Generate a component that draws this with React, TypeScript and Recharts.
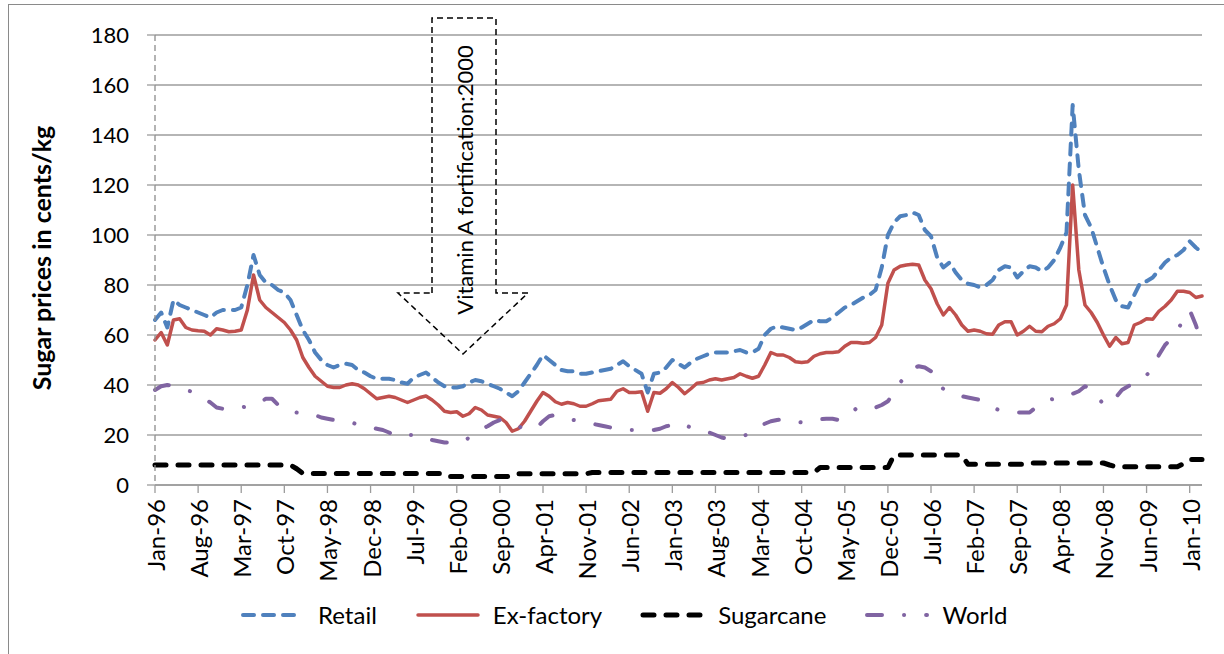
import { LineChart, Line, XAxis, YAxis, CartesianGrid } from 'recharts';

// monthly series, Jan-96 .. Mar-10 (171 months)
const monthNames = ['Jan', 'Feb', 'Mar', 'Apr', 'May', 'Jun', 'Jul', 'Aug', 'Sep', 'Oct', 'Nov', 'Dec'];
const firstYear = 96;
const monthCount = 171;

const retail = [
  66, 69, 63, 74, 72, 71, 70, 69, 68, 67,
  69, 70, 70, 70, 71, 80, 92, 84, 81, 80,
  78, 77, 74, 68, 62, 58, 53, 50, 48, 47,
  48, 48.5, 48, 46, 45, 43.5, 42.5, 42.5, 42.5, 42,
  41, 40.5, 43, 44, 45, 43, 41, 39.5, 39, 39,
  39.5, 41, 42, 41.5, 40.5, 39.5, 38.5, 37, 35.5, 37.5,
  41, 44.5, 48, 52, 50, 48, 46, 45.5, 45.5, 44.5,
  44.5, 45, 45.5, 46, 46.5, 48, 49.5, 47.5, 46, 44.5,
  37, 44.5, 45, 47, 50, 48.5, 47, 49, 50.5, 51.5,
  52.5, 53, 53, 53, 53.5, 54, 53, 53, 54.5, 60,
  62.5, 63.5, 63, 62.5, 62, 63, 64.5, 66, 65.5, 65.5,
  67, 69, 71, 72, 73.5, 75, 76, 78, 87, 100,
  105, 107.5, 108, 109, 108, 102, 99.5, 91, 87, 89,
  85, 82, 80.5, 80, 79, 80, 82, 86, 87.5, 87,
  83, 85.5, 87.5, 87, 85.5, 87, 90, 95, 101, 152,
  126, 108, 103, 95, 87, 80, 74, 71.5, 71, 76,
  81, 81.5, 83, 86, 89, 91, 92, 94, 97.5, 95,
  93,
];

const exFactory = [
  58, 61, 56, 66, 66.5, 63, 62, 61.7, 61.5, 60,
  62.5, 62, 61.3, 61.5, 62, 70, 84, 74, 71, 69,
  67, 65, 62, 58, 51, 47, 43.5, 41.5, 39.5, 39,
  39, 40, 40.5, 40, 38.5, 36.5, 34.5, 35, 35.5, 35,
  34, 33, 34, 35, 35.6, 34, 32, 29.5, 29, 29.3,
  27.5, 28.5, 31, 30, 28, 27.5, 27, 25, 21.5, 22.5,
  25.5, 29.5, 33.5, 37, 35.5, 33.3, 32.3, 33, 32.5, 31.5,
  31.5, 32.5, 33.7, 34, 34.3, 37.5, 38.5, 37, 37, 37.3,
  29.5, 37, 36.7, 38.5, 41, 39, 36.5, 38.5, 40.7, 41,
  42, 42.5, 42, 42.5, 43, 44.5, 43.5, 42.7, 43.5, 48,
  53, 52, 52, 51, 49.3, 49, 49.3, 51.5, 52.5, 53,
  53, 53.3, 55.5, 57, 57, 56.7, 57, 59, 64, 80.7,
  86, 87.5, 88, 88.3, 88, 82, 78.5, 72.5, 68, 71,
  68, 64, 61.5, 62, 61.5, 60.5, 60.3, 64, 65.3, 65.3,
  60, 61.5, 63.5, 61.5, 61.3, 63.5, 64.5, 66.5, 72, 120,
  86, 72, 69, 65, 60, 55.5, 59, 56.5, 57, 64,
  65, 66.5, 66.3, 69.5, 71.5, 74, 77.5, 77.5, 77, 75,
  75.6,
];

const sugarcane = [
  8, 8, 8, 8, 8, 8, 8, 8, 8, 8,
  8, 8, 8, 8, 8, 8, 8, 8, 8, 8,
  8, 8, 8, 6.5, 4.6, 4.6, 4.6, 4.6, 4.6, 4.6,
  4.6, 4.6, 4.6, 4.6, 4.6, 4.6, 4.6, 4.6, 4.6, 4.6,
  4.6, 4.6, 4.6, 4.6, 4.6, 4.6, 4.6, 4.6, 3.4, 3.4,
  3.4, 3.4, 3.4, 3.4, 3.4, 3.4, 3.4, 3.4, 3.4, 4.5,
  4.5, 4.5, 4.5, 4.5, 4.5, 4.5, 4.5, 4.5, 4.5, 4.5,
  4.5, 5, 5, 5, 5, 5, 5, 5, 5, 5,
  5, 5, 5, 5, 5, 5, 5, 5, 5, 5,
  5, 5, 5, 5, 5, 5, 5, 5, 5, 5,
  5, 5, 5, 5, 5, 5, 5, 5, 7, 7,
  7, 7, 7, 7, 7, 7, 7, 7, 7, 7,
  12, 12, 12, 12, 12, 12, 12, 12, 12, 12,
  12, 12, 8.3, 8.3, 8.3, 8.3, 8.3, 8.3, 8.3, 8.3,
  8.3, 8.3, 8.8, 8.8, 8.8, 8.8, 8.8, 8.8, 8.8, 8.8,
  8.8, 8.8, 8.8, 8.8, 8.8, 8, 7.3, 7.3, 7.3, 7.3,
  7.3, 7.3, 7.3, 7.3, 7.3, 7.3, 7.3, 8.5, 10.2, 10.2,
  10.2,
];

const world = [
  38, 39.5, 40, 39.7, 39, 38, 37.3, 36, 34.5, 33,
  31, 30.5, 30.3, 30.5, 31, 31.5, 32, 33, 34.5, 34.5,
  32, 30, 29.5, 29, 28.8, 28.7, 28, 27, 26.5, 26,
  25.7, 25.3, 25, 24, 23.3, 23, 22.5, 22, 21, 19.5,
  19.5, 20, 20, 20, 19, 18, 17.5, 17, 17, 17,
  17.2, 19, 21, 22.5, 23.5, 25, 26, 25.5, 24.5, 23.5,
  22.5, 22.5, 23, 25.5, 27.5, 28, 27.5, 26.5, 26, 25.5,
  25, 24.5, 24, 23.5, 23, 22.5, 22, 22, 22, 21.8,
  21.7, 22, 22.5, 23.5, 24, 25, 24, 23, 22, 21.5,
  21, 20, 19, 18.5, 19, 19.5, 20, 21.5, 23, 24.5,
  25.5, 26, 26.3, 26, 25.5, 25, 25.5, 26, 26.3, 26.5,
  26.5, 26, 26.5, 28.5, 31, 31.5, 31, 31, 32, 33.5,
  37, 41, 44, 46.7, 47.5, 47, 45.5, 40, 38.5, 37.5,
  36, 35.5, 35, 34.5, 34, 32, 31, 30, 29.5, 29,
  29, 29, 29, 31, 33, 34, 34.5, 34.7, 35.5, 36.5,
  37.5, 39.5, 38.5, 35, 32.5, 32, 35, 38, 39.5, 40.5,
  42, 44, 46.3, 52, 56, 58.5, 62, 66, 70, 64,
  56,
];

const yTicks = [0, 20, 40, 60, 80, 100, 120, 140, 160, 180];
const yTitle = 'Sugar prices in cents/kg';
const noteText = 'Vitamin A fortification:2000';

const months: string[] = [];
for (let i = 0; i < monthCount; i++) {
  const yy = (firstYear + Math.floor(i / 12)) % 100;
  months.push(`${monthNames[i % 12]}-${String(yy).padStart(2, '0')}`);
}

const data = months.map((month, i) => ({
  month,
  retail: retail[i],
  exFactory: exFactory[i],
  sugarcane: sugarcane[i],
  world: world[i],
}));

const series = [
  { key: 'retail', name: 'Retail', color: '#4F81BD', width: 4, dash: '11 9' },
  { key: 'exFactory', name: 'Ex-factory', color: '#C0504D', width: 3.5, dash: undefined },
  { key: 'sugarcane', name: 'Sugarcane', color: '#000000', width: 5, dash: '11 12' },
  { key: 'world', name: 'World', color: '#8064A2', width: 4, dash: '15 22 0.1 22' },
];

const FONT = 'Lato, "Open Sans", sans-serif';

const MonthTick = (props: any) => {
  const { x, y, payload } = props;
  return (
    <g transform={`translate(${x},${y}) rotate(-90)`}>
      <text x={0} y={0} dy={10} textAnchor="end" fontSize={24} fill="#000" fontFamily={FONT}>
        {payload.value}
      </text>
    </g>
  );
};

export default function App() {
  return (
    <div
      style={{
        position: 'fixed',
        left: 0,
        top: 0,
        width: 1224,
        height: 654,
        overflow: 'hidden',
        background: '#fff',
        fontFamily: FONT,
      }}
    >
      <div
        style={{
          position: 'absolute',
          left: 8,
          top: 4,
          width: 1400,
          height: 900,
          border: '1.5px solid #8a8a8a',
        }}
      />
      <div style={{ position: 'absolute', left: 0, top: 0 }}>
        <LineChart width={1224} height={654} data={data} margin={{ top: 35, right: 22, bottom: 59, left: 0 }}>
          <CartesianGrid vertical={false} stroke="#9c9c9c" strokeWidth={1.3} />
          <XAxis
            dataKey="month"
            interval={6}
            height={110}
            tickSize={8}
            tickMargin={6}
            axisLine={{ stroke: '#9c9c9c', strokeWidth: 1.3 }}
            tickLine={{ stroke: '#9c9c9c', strokeWidth: 1.3 }}
            tick={<MonthTick />}
          />
          <YAxis
            width={155}
            domain={[0, 180]}
            ticks={yTicks}
            interval={0}
            tickSize={8}
            tickMargin={18}
            axisLine={{ stroke: '#8c8c8c', strokeWidth: 1.3, strokeDasharray: '6 4' }}
            tickLine={{ stroke: '#9c9c9c', strokeWidth: 1.3 }}
            tick={{ fontSize: 22, fill: '#000', fontFamily: FONT }}
          />
          {series.map((s) => (
            <Line
              key={s.key}
              type="linear"
              dataKey={s.key}
              name={s.name}
              stroke={s.color}
              strokeWidth={s.width}
              strokeDasharray={s.dash}
              strokeLinecap="round"
              strokeLinejoin="round"
              dot={false}
              activeDot={false}
              isAnimationActive={false}
            />
          ))}
        </LineChart>
      </div>

      <svg
        width={1224}
        height={654}
        style={{ position: 'absolute', left: 0, top: 0, pointerEvents: 'none' }}
      >
        <g transform="translate(51,258) rotate(-90)">
          <text x={0} y={0} textAnchor="middle" fontSize={25} fontWeight="bold" fill="#000" fontFamily={FONT}>
            {yTitle}
          </text>
        </g>
        <path
          d="M432 293 L432 18 L496 18 L496 293 L528 293 L463 354 L398 293 Z"
          fill="none"
          stroke="#000"
          strokeWidth={1.5}
          strokeDasharray="6 4"
        />
        <g transform="translate(473,180) rotate(-90)">
          <text x={0} y={0} textAnchor="middle" fontSize={22} fill="#000" fontFamily={FONT}>
            {noteText}
          </text>
        </g>
      </svg>

      <div
        style={{
          position: 'absolute',
          left: 240,
          top: 600,
          display: 'flex',
          alignItems: 'center',
          gap: 38,
          fontSize: 24,
          color: '#000',
        }}
      >
        {series.map((s) => (
          <div key={s.key} style={{ display: 'flex', alignItems: 'center', gap: 12 }}>
            <svg width={66} height={12}>
              <line
                x1={3}
                y1={6}
                x2={63}
                y2={6}
                stroke={s.color}
                strokeWidth={s.width}
                strokeDasharray={s.dash}
                strokeLinecap="round"
              />
            </svg>
            <span>{s.name}</span>
          </div>
        ))}
      </div>
    </div>
  );
}
